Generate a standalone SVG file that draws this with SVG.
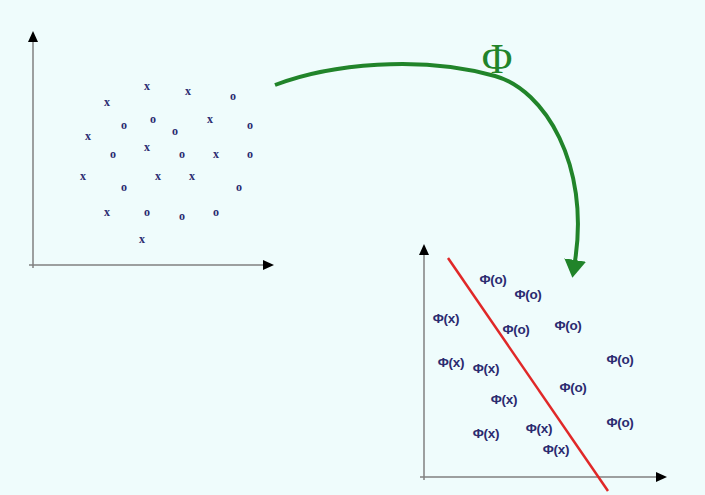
<svg xmlns="http://www.w3.org/2000/svg" width="705" height="495" viewBox="0 0 705 495">
<defs>
<style>
.axis{stroke:#808080;stroke-width:1.5;fill:none}
.pt{font-family:"Liberation Serif",serif;font-weight:bold;font-size:12px;fill:#2b2b70;text-anchor:middle;dominant-baseline:central}
.lb{font-family:"Liberation Sans",Arial,sans-serif;font-weight:bold;font-size:13.5px;fill:#2b2b70;text-anchor:middle;dominant-baseline:central;letter-spacing:-0.3px}
</style>
<marker id="ax" markerUnits="userSpaceOnUse" viewBox="0 0 11 10" refX="1" refY="5" markerWidth="11" markerHeight="10" orient="auto">
<path d="M0,0 L11,5 L0,10 z" fill="#000"/>
</marker>
<marker id="ga" markerUnits="userSpaceOnUse" viewBox="0 0 18 22" refX="1" refY="11" markerWidth="18" markerHeight="22" orient="auto">
<path d="M0,0 L18,11 L0,22 z" fill="#21842a"/>
</marker>
</defs>
<rect x="0" y="0" width="705" height="495" fill="#effcfc"/>
<g id="input-space">
<line class="axis" x1="33" y1="268" x2="33" y2="41" marker-end="url(#ax)"/>
<line class="axis" x1="29" y1="265" x2="264" y2="265" marker-end="url(#ax)"/>
<text class="pt" x="147" y="86">x</text>
<text class="pt" x="188" y="91">x</text>
<text class="pt" x="233" y="96">o</text>
<text class="pt" x="107" y="102">x</text>
<text class="pt" x="124" y="125">o</text>
<text class="pt" x="153" y="119">o</text>
<text class="pt" x="175" y="131">o</text>
<text class="pt" x="210" y="119">x</text>
<text class="pt" x="250" y="125">o</text>
<text class="pt" x="88" y="136">x</text>
<text class="pt" x="113" y="154">o</text>
<text class="pt" x="147" y="147">x</text>
<text class="pt" x="182" y="154">o</text>
<text class="pt" x="216" y="154">x</text>
<text class="pt" x="250" y="154">o</text>
<text class="pt" x="83" y="176">x</text>
<text class="pt" x="158" y="176">x</text>
<text class="pt" x="192" y="176">x</text>
<text class="pt" x="124" y="187">o</text>
<text class="pt" x="239" y="187">o</text>
<text class="pt" x="107" y="212">x</text>
<text class="pt" x="147" y="212">o</text>
<text class="pt" x="182" y="216">o</text>
<text class="pt" x="216" y="212">o</text>
<text class="pt" x="142" y="239">x</text>
</g>
<g id="feature-space">
<line class="axis" x1="424" y1="480" x2="424" y2="254" marker-end="url(#ax)"/>
<line class="axis" x1="420" y1="477" x2="657" y2="477" marker-end="url(#ax)"/>
<line x1="448" y1="258" x2="608" y2="491" stroke="#e02828" stroke-width="2.5"/>
<text class="lb" x="493" y="279">Φ(o)</text>
<text class="lb" x="528" y="294">Φ(o)</text>
<text class="lb" x="446" y="318">Φ(x)</text>
<text class="lb" x="516" y="329">Φ(o)</text>
<text class="lb" x="568" y="325">Φ(o)</text>
<text class="lb" x="451" y="362">Φ(x)</text>
<text class="lb" x="486" y="368">Φ(x)</text>
<text class="lb" x="620" y="359">Φ(o)</text>
<text class="lb" x="573" y="387">Φ(o)</text>
<text class="lb" x="504" y="399">Φ(x)</text>
<text class="lb" x="486" y="433">Φ(x)</text>
<text class="lb" x="539" y="428">Φ(x)</text>
<text class="lb" x="620" y="422">Φ(o)</text>
<text class="lb" x="556" y="449">Φ(x)</text>
</g>
<g id="connectors">
<path d="M275,85 C330,64 420,55 495,76 C545,90 590,165 575,261" fill="none" stroke="#21842a" stroke-width="4" marker-end="url(#ga)"/>
<text x="497" y="73" font-family="Liberation Serif,serif" font-size="42" fill="#21842a" text-anchor="middle">Φ</text>
</g>
</svg>
